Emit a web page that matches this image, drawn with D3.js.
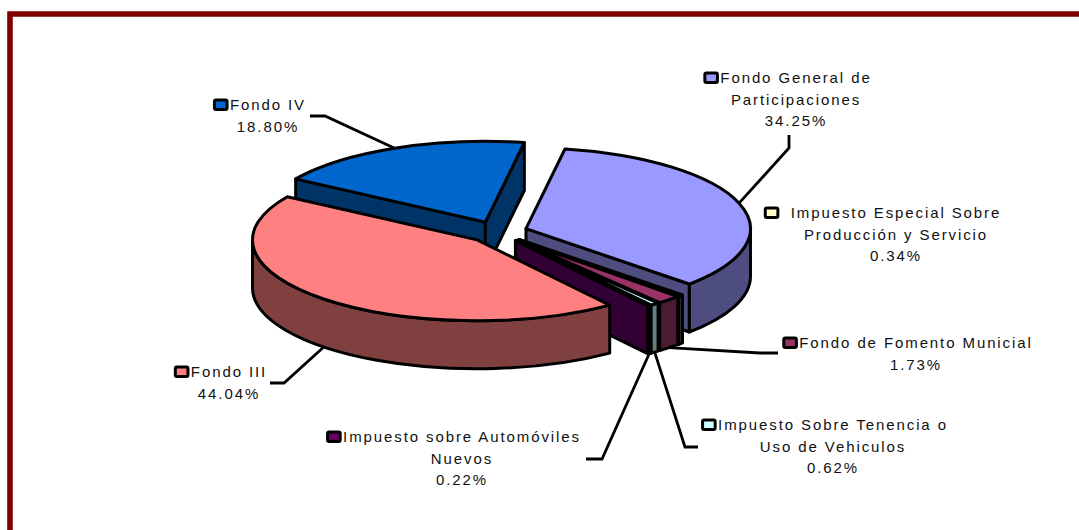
<!DOCTYPE html>
<html>
<head>
<meta charset="utf-8">
<script src="https://cdn.jsdelivr.net/npm/d3@7"></script>
<style>
  html, body { margin: 0; padding: 0; background: #fff; }
  text { font-family: "Liberation Sans", Arial, sans-serif; font-size: 15px; letter-spacing: 1.9px; fill: #111; }
</style>
</head>
<body>
<svg id="chart"></svg>
<script>
// --- Data ---
const categories = ["Fondo General de Participaciones", "Impuesto Especial Sobre Producción y Servicio", "Fondo de Fomento Municial", "Impuesto Sobre Tenencia o Uso de Vehiculos", "Impuesto sobre Automóviles Nuevos", "Fondo III", "Fondo IV"];
const values = [34.25, 0.34, 1.73, 0.62, 0.22, 44.04, 18.80];
const valueLabels = ["34.25%", "0.34%", "1.73%", "0.62%", "0.22%", "44.04%", "18.80%"];
const topColors = ["#9999ff", "#ffffcc", "#993366", "#ccffff", "#660066", "#ff8080", "#0066cc"];
const sideColors = ["#4d4d80", "#808066", "#4d1a33", "#668080", "#330033", "#804040", "#003366"];
const labelLines = [
    ["Fondo General de", "Participaciones"],
    ["Impuesto Especial Sobre", "Producción y Servicio"],
    ["Fondo de Fomento Municial"],
    ["Impuesto Sobre Tenencia o", "Uso de Vehiculos"],
    ["Impuesto sobre Automóviles", "Nuevos"],
    ["Fondo III"],
    ["Fondo IV"]
];

// --- Layout ---
const width = 1079;
const height = 530;
const cx = 497.5, cy = 232;    // centre of the pie before exploding
const R = 224.5;               // outer radius
const tilt = 0.36;             // vertical squash of the 3d view
const depth = 48;              // height of the walls
const explode = 30;
const startDeg = 10;

// label centre x, first baseline y, and the elbow of each leader
const labelPos = [
    { x: 796, y: 83, elbow: [789, 148], end: [789, 135] },
    { x: 896, y: 218, keyGap: 10, elbow: null, end: null },
    { x: 916, y: 348, elbow: [760, 353], end: [778, 353] },
    { x: 833, y: 430, elbow: [685, 447], end: [698, 447] },
    { x: 462, y: 442, elbow: [602, 459], end: [586, 459] },
    { x: 229, y: 377, elbow: [284, 383], end: [270, 383] },
    { x: 268, y: 110, elbow: [325, 116], end: [310, 116] }
];

const svg = d3.select("#chart")
    .attr("width", width)
    .attr("height", height)
    .style("display", "block");

// Frame: only top and left edges show
svg.append("path")
    .attr("d", d3.line()([[10, height], [10, 14], [width, 14]]))
    .attr("fill", "none")
    .attr("stroke", "#800000")
    .attr("stroke-width", 5.6);

// --- Pie angles ---
const pie = d3.pie()
    .sort(null)
    .startAngle(startDeg * Math.PI / 180)
    .endAngle((startDeg + 360) * Math.PI / 180);

const slices = pie(values).map((d, i) => {
    const mid = (d.startAngle + d.endAngle) / 2;
    return {
        i,
        a0: d.startAngle,
        a1: d.endAngle,
        mid,
        ox: cx + explode * Math.sin(mid),
        oy: cy - explode * tilt * Math.cos(mid)
    };
});

function pt(s, a, r = R) {
    return [s.ox + r * Math.sin(a), s.oy - r * tilt * Math.cos(a)];
}

function arcTo(p, a0, a1, sweep) {
    const large = Math.abs(a1 - a0) > Math.PI ? 1 : 0;
    return `A${R},${R * tilt} 0 ${large} ${sweep} ${p[0]},${p[1]}`;
}

function topPath(s) {
    const a = pt(s, s.a0), b = pt(s, s.a1);
    return `M${s.ox},${s.oy}L${a[0]},${a[1]}${arcTo(b, s.a0, s.a1, 1)}Z`;
}

function radialFace(s, a) {
    const p = pt(s, a);
    return d3.line()([[s.ox, s.oy], p, [p[0], p[1] + depth], [s.ox, s.oy + depth]]) + "Z";
}

// Outer wall pieces that face the viewer (angles between 90 and 270 degrees)
function wallPath(s) {
    const lo = Math.PI / 2, hi = 3 * Math.PI / 2;
    const ranges = [[lo, hi], [lo + 2 * Math.PI, hi + 2 * Math.PI]];
    let d = "";
    ranges.forEach(([u, v]) => {
        const a = Math.max(s.a0, u), b = Math.min(s.a1, v);
        if (b <= a) return;
        const p = pt(s, a), q = pt(s, b);
        d += `M${p[0]},${p[1]}${arcTo(q, a, b, 1)}L${q[0]},${q[1] + depth}`;
        d += arcTo([p[0], p[1] + depth], a, b, 0) + "Z";
    });
    return d;
}

// Paint from the back: Fondo IV first, Fondo III last
const drawOrder = [6, 0, 1, 2, 3, 4, 5];
const pieG = svg.append("g")
    .attr("stroke", "#000")
    .attr("stroke-width", 3)
    .attr("stroke-linejoin", "round");

// --- Leaders go under the pie ---
const leaders = svg.insert("g", "g")
    .attr("fill", "none")
    .attr("stroke", "#000")
    .attr("stroke-width", 2.8);

slices.forEach(s => {
    const pos = labelPos[s.i];
    if (!pos.elbow) return;
    const p = pt(s, s.mid);
    const front = Math.cos(s.mid) < 0;
    leaders.append("path")
        .attr("d", d3.line()([[p[0], p[1] + (front ? depth : 0)], pos.elbow, pos.end]));
});

drawOrder.forEach(i => {
    const s = slices[i];
    const g = pieG.append("g");
    if (Math.sin(s.a0) < 0) {
        g.append("path").attr("d", radialFace(s, s.a0)).attr("fill", sideColors[i]);
    }
    if (Math.sin(s.a1) > 0) {
        g.append("path").attr("d", radialFace(s, s.a1)).attr("fill", sideColors[i]);
    }
    g.append("path").attr("d", wallPath(s)).attr("fill", sideColors[i]);
    g.append("path").attr("d", topPath(s)).attr("fill", topColors[i]);
});

// --- Labels ---
const lineGap = 21.5;
slices.forEach(s => {
    const pos = labelPos[s.i];
    const lines = [...labelLines[s.i], valueLabels[s.i]];
    const g = svg.append("g");
    const texts = g.selectAll("text")
        .data(lines)
        .join("text")
        .attr("x", pos.x)
        .attr("y", (d, j) => pos.y + j * lineGap)
        .attr("text-anchor", "middle")
        .text(d => d);
    const w = texts.nodes()[0].getComputedTextLength();
    g.append("rect")
        .attr("x", pos.x - w / 2 - 15.5 - (pos.keyGap || 0))
        .attr("y", pos.y - 10)
        .attr("width", 12.6)
        .attr("height", 9.5)
        .attr("rx", 1.5)
        .attr("fill", topColors[s.i])
        .attr("stroke", "#000")
        .attr("stroke-width", 3);
});
</script>
</body>
</html>
